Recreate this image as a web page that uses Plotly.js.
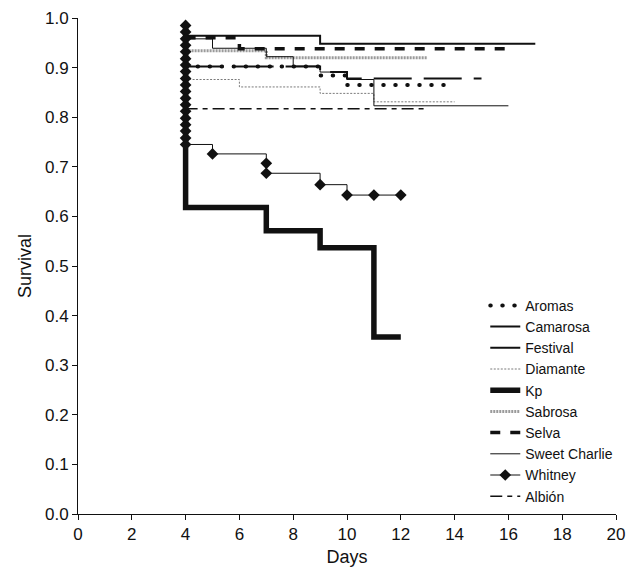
<!DOCTYPE html>
<html>
<head>
<meta charset="utf-8">
<script src="https://cdn.plot.ly/plotly-3.0.1.min.js"></script>
<style>html,body{margin:0;padding:0;background:#fff;}#chart{width:630px;height:570px;}</style>
</head>
<body>
<div id="chart"></div>
<script>
// Series names (legend order)
const names = ["Aromas", "Camarosa", "Festival", "Diamante", "Kp", "Sabrosa", "Selva", "Sweet Charlie", "Whitney", "Albión"];

// Days and survival values
const daysAromas = [4, 9, 10, 14];
const survAromas = [0.902, 0.884, 0.865, 0.865];

const daysCamarosa = [4, 9, 17];
const survCamarosa = [0.964, 0.948, 0.948];

const daysFestival = [4, 9, 10, 15];
const survFestival = [0.902, 0.891, 0.878, 0.878];

const daysDiamante = [4, 6, 9, 11, 14];
const survDiamante = [0.876, 0.861, 0.848, 0.831, 0.831];

const daysKp = [4, 4, 7, 9, 11, 12];
const survKp = [0.985, 0.618, 0.571, 0.537, 0.357, 0.357];

const daysSabrosa = [4, 7, 13];
const survSabrosa = [0.934, 0.920, 0.920];

const daysSelva = [4, 6, 16];
const survSelva = [0.960, 0.938, 0.938];

const daysSweet = [4, 5, 7, 8, 9, 10, 11, 16];
const survSweet = [0.958, 0.939, 0.922, 0.903, 0.891, 0.876, 0.823, 0.823];

const daysWhitney = [4, 4, 4, 4, 4, 4, 4, 4, 4, 4, 4, 4, 4, 4, 4, 4, 4, 4, 4, 5, 7, 7, 9, 10, 11, 12];
const survWhitney = [0.985, 0.972, 0.958, 0.945, 0.932, 0.918, 0.905, 0.892, 0.878, 0.865, 0.852, 0.838, 0.825, 0.812, 0.798, 0.785, 0.772, 0.758, 0.745, 0.726, 0.707, 0.687, 0.664, 0.643, 0.643, 0.643];

const daysAlbion = [4, 13];
const survAlbion = [0.817, 0.817];

// Axis ticks
const xTicks = [0, 2, 4, 6, 8, 10, 12, 14, 16, 18, 20];
const yTicks = [0, 0.1, 0.2, 0.3, 0.4, 0.5, 0.6, 0.7, 0.8, 0.9, 1.0];
const yTickText = ["0.0", "0.1", "0.2", "0.3", "0.4", "0.5", "0.6", "0.7", "0.8", "0.9", "1.0"];

function step(name, x, y, line, extra) {
  return Object.assign({
    type: "scatter", mode: "lines", name: name, x: x, y: y,
    line: Object.assign({shape: "hv"}, line), hoverinfo: "skip"
  }, extra || {});
}

const traces = [
  step(names[0], daysAromas, survAromas, {color: "#111", width: 4, dash: "0.5px,11.5px"}),
  step(names[1], daysCamarosa, survCamarosa, {color: "#111", width: 2}),
  step(names[2], daysFestival, survFestival, {color: "#111", width: 2, dash: "38px,12px"}),
  step(names[3], daysDiamante, survDiamante, {color: "#7a7a7a", width: 1, dash: "2px,1.5px"}),
  step(names[4], daysKp, survKp, {color: "#111", width: 5.5}),
  step(names[5], daysSabrosa, survSabrosa, {color: "#9a9a9a", width: 3, dash: "2px,1px"}),
  step(names[6], daysSelva, survSelva, {color: "#111", width: 3.5, dash: "10px,10px"}),
  step(names[7], daysSweet, survSweet, {color: "#111", width: 1}),
  step(names[8], daysWhitney, survWhitney, {color: "#111", width: 1}, {mode: "lines+markers", marker: {symbol: "diamond", size: 9, color: "#111"}}),
  step(names[9], daysAlbion, survAlbion, {color: "#111", width: 1.5, dash: "12px,5px,5px,5px"})
];

const font = {family: "Liberation Sans, Arial, sans-serif", color: "#111"};

const layout = {
  width: 630, height: 570,
  margin: {l: 78, r: 14, t: 18, b: 56, pad: 0},
  paper_bgcolor: "#fff", plot_bgcolor: "#fff",
  showlegend: true,
  font: Object.assign({size: 15}, font),
  xaxis: {
    range: [0, 20], tickvals: xTicks, ticktext: xTicks.map(String),
    showline: true, linecolor: "#111", linewidth: 1, ticks: "outside", ticklen: 5, tickcolor: "#111",
    showgrid: false, zeroline: false, tickfont: Object.assign({size: 17}, font),
    title: {text: "Days", font: Object.assign({size: 18}, font), standoff: 6}
  },
  yaxis: {
    range: [0, 1], tickvals: yTicks, ticktext: yTickText,
    showline: true, linecolor: "#111", linewidth: 1, ticks: "outside", ticklen: 5, tickcolor: "#111",
    showgrid: false, zeroline: false, tickfont: Object.assign({size: 17}, font),
    title: {text: "Survival", font: Object.assign({size: 18}, font), standoff: 8}
  },
  legend: {
    x: 0.757, y: 0.452, xanchor: "left", yanchor: "top",
    bgcolor: "rgba(0,0,0,0)", borderwidth: 0,
    font: Object.assign({size: 14}, font), tracegroupgap: 0
  }
};

function roundDots(gd) {
  // give the Aromas dotted line round dots (in plot and legend)
  const plotTraces = gd.querySelectorAll(".scatterlayer .trace");
  if (plotTraces[0]) plotTraces[0].querySelectorAll("path.js-line").forEach(p => p.style.strokeLinecap = "round");
  const legTraces = gd.querySelectorAll(".legend .traces");
  if (legTraces[0]) legTraces[0].querySelectorAll("path.js-line").forEach(p => p.style.strokeLinecap = "round");
}

Plotly.newPlot("chart", traces, layout, {displayModeBar: false, staticPlot: true}).then(roundDots);
</script>
</body>
</html>
